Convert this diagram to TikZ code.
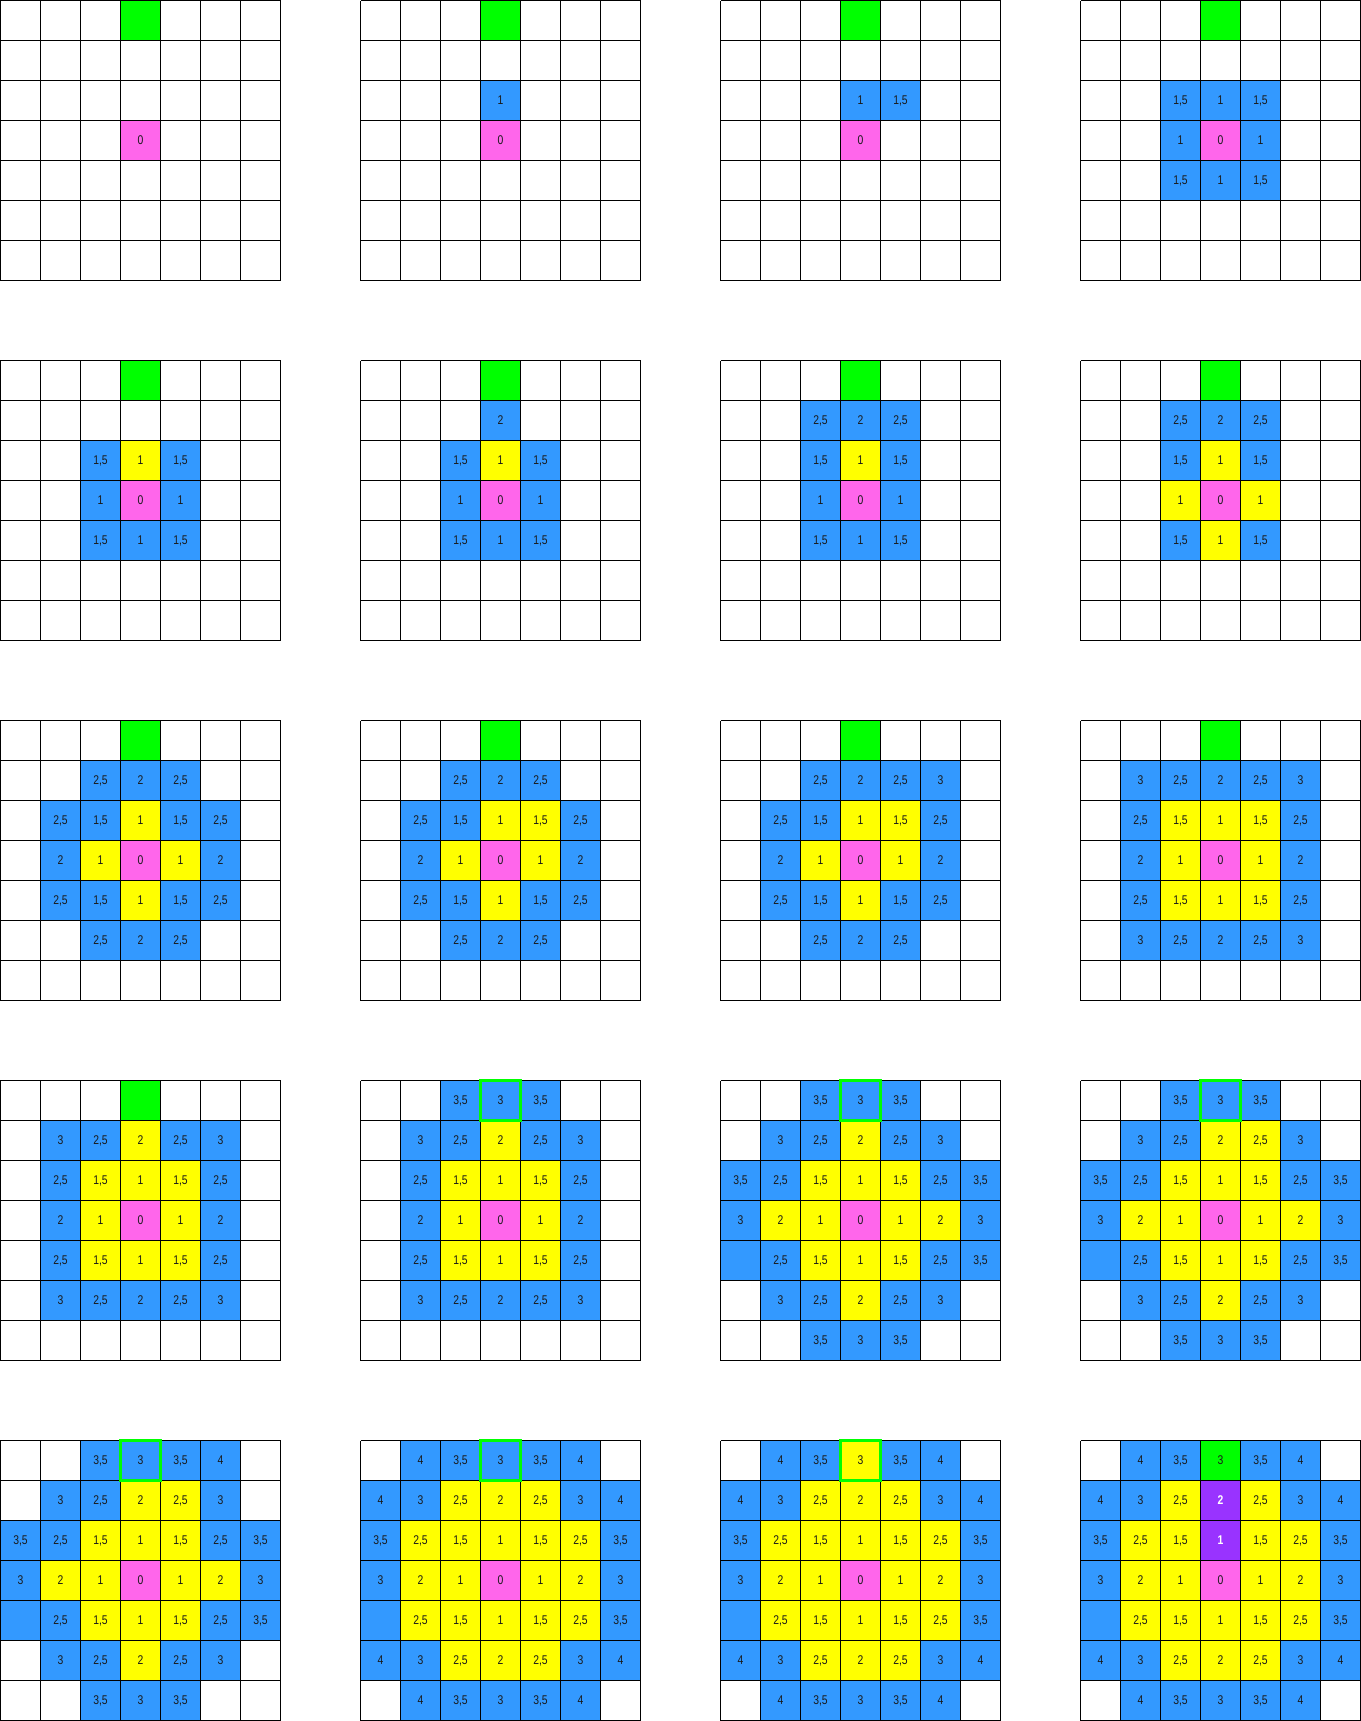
\documentclass[tikz,border=0pt]{standalone}
\usepackage{fontspec}
\usepackage{graphicx}
\setmainfont{Liberation Sans}
\definecolor{cblue}{HTML}{3399FF}
\definecolor{cyel}{HTML}{FFFF00}
\definecolor{cpink}{HTML}{FF66EB}
\definecolor{cgreen}{HTML}{00FF00}
\definecolor{cpurple}{HTML}{9933FF}
\definecolor{ctext}{HTML}{1A1A1A}
\newcommand\lbl[1]{\scalebox{0.82}[1]{#1}}
\tikzset{
  cell/.style={minimum size=1cm, inner sep=0pt, outer sep=0pt, draw=none, text=ctext, font=\fontsize{9}{10}\selectfont},
  blu/.style={fill=cblue},
  yel/.style={fill=cyel},
  pnk/.style={fill=cpink},
  grn/.style={fill=cgreen},
  pur/.style={fill=cpurple, text=white, font=\fontsize{9}{10}\selectfont\bfseries},
  gridline/.style={draw=black, line width=0.8pt},
  gbord/.style={draw=cgreen, line width=2.2pt}
}
\newcommand\gridblock[4]{%
  \foreach \r/\c/\s/\t in {#4} {
    \node[cell,\s] (#1-\r-\c) at ({#2+\c+0.5},{#3-\r-0.5}) {\lbl{\t}};
  }
  \draw[gridline] (#2,#3) grid (#2+7,#3-7);
}
\begin{document}
\begin{tikzpicture}
\useasboundingbox[fill=white] (-0.0125,0.0125) rectangle (34.0125,-43.0125);
% row 1
\gridblock{g1}{0}{0}{0/3/grn/{}, 3/3/pnk/0}
\gridblock{g2}{9}{0}{0/3/grn/{}, 2/3/blu/1, 3/3/pnk/0}
\gridblock{g3}{18}{0}{0/3/grn/{}, 2/3/blu/1, 2/4/blu/{1,5}, 3/3/pnk/0}
\gridblock{g4}{27}{0}{0/3/grn/{}, 2/2/blu/{1,5}, 2/3/blu/1, 2/4/blu/{1,5}, 3/2/blu/1, 3/3/pnk/0, 3/4/blu/1, 4/2/blu/{1,5}, 4/3/blu/1, 4/4/blu/{1,5}}
% row 2
\gridblock{g5}{0}{-9}{0/3/grn/{}, 2/2/blu/{1,5}, 2/3/yel/1, 2/4/blu/{1,5}, 3/2/blu/1, 3/3/pnk/0, 3/4/blu/1, 4/2/blu/{1,5}, 4/3/blu/1, 4/4/blu/{1,5}}
\gridblock{g6}{9}{-9}{0/3/grn/{}, 1/3/blu/2, 2/2/blu/{1,5}, 2/3/yel/1, 2/4/blu/{1,5}, 3/2/blu/1, 3/3/pnk/0, 3/4/blu/1, 4/2/blu/{1,5}, 4/3/blu/1, 4/4/blu/{1,5}}
\gridblock{g7}{18}{-9}{0/3/grn/{}, 1/2/blu/{2,5}, 1/3/blu/2, 1/4/blu/{2,5}, 2/2/blu/{1,5}, 2/3/yel/1, 2/4/blu/{1,5}, 3/2/blu/1, 3/3/pnk/0, 3/4/blu/1, 4/2/blu/{1,5}, 4/3/blu/1, 4/4/blu/{1,5}}
\gridblock{g8}{27}{-9}{0/3/grn/{}, 1/2/blu/{2,5}, 1/3/blu/2, 1/4/blu/{2,5}, 2/2/blu/{1,5}, 2/3/yel/1, 2/4/blu/{1,5}, 3/2/yel/1, 3/3/pnk/0, 3/4/yel/1, 4/2/blu/{1,5}, 4/3/yel/1, 4/4/blu/{1,5}}
% row 3
\gridblock{g9}{0}{-18}{0/3/grn/{},
  1/2/blu/{2,5}, 1/3/blu/2, 1/4/blu/{2,5},
  2/1/blu/{2,5}, 2/2/blu/{1,5}, 2/3/yel/1, 2/4/blu/{1,5}, 2/5/blu/{2,5},
  3/1/blu/2, 3/2/yel/1, 3/3/pnk/0, 3/4/yel/1, 3/5/blu/2,
  4/1/blu/{2,5}, 4/2/blu/{1,5}, 4/3/yel/1, 4/4/blu/{1,5}, 4/5/blu/{2,5},
  5/2/blu/{2,5}, 5/3/blu/2, 5/4/blu/{2,5}}
\gridblock{g10}{9}{-18}{0/3/grn/{},
  1/2/blu/{2,5}, 1/3/blu/2, 1/4/blu/{2,5},
  2/1/blu/{2,5}, 2/2/blu/{1,5}, 2/3/yel/1, 2/4/yel/{1,5}, 2/5/blu/{2,5},
  3/1/blu/2, 3/2/yel/1, 3/3/pnk/0, 3/4/yel/1, 3/5/blu/2,
  4/1/blu/{2,5}, 4/2/blu/{1,5}, 4/3/yel/1, 4/4/blu/{1,5}, 4/5/blu/{2,5},
  5/2/blu/{2,5}, 5/3/blu/2, 5/4/blu/{2,5}}
\gridblock{g11}{18}{-18}{0/3/grn/{},
  1/2/blu/{2,5}, 1/3/blu/2, 1/4/blu/{2,5}, 1/5/blu/3,
  2/1/blu/{2,5}, 2/2/blu/{1,5}, 2/3/yel/1, 2/4/yel/{1,5}, 2/5/blu/{2,5},
  3/1/blu/2, 3/2/yel/1, 3/3/pnk/0, 3/4/yel/1, 3/5/blu/2,
  4/1/blu/{2,5}, 4/2/blu/{1,5}, 4/3/yel/1, 4/4/blu/{1,5}, 4/5/blu/{2,5},
  5/2/blu/{2,5}, 5/3/blu/2, 5/4/blu/{2,5}}
\gridblock{g12}{27}{-18}{0/3/grn/{},
  1/1/blu/3, 1/2/blu/{2,5}, 1/3/blu/2, 1/4/blu/{2,5}, 1/5/blu/3,
  2/1/blu/{2,5}, 2/2/yel/{1,5}, 2/3/yel/1, 2/4/yel/{1,5}, 2/5/blu/{2,5},
  3/1/blu/2, 3/2/yel/1, 3/3/pnk/0, 3/4/yel/1, 3/5/blu/2,
  4/1/blu/{2,5}, 4/2/yel/{1,5}, 4/3/yel/1, 4/4/yel/{1,5}, 4/5/blu/{2,5},
  5/1/blu/3, 5/2/blu/{2,5}, 5/3/blu/2, 5/4/blu/{2,5}, 5/5/blu/3}
% row 4
\gridblock{g13}{0}{-27}{0/3/grn/{},
  1/1/blu/3, 1/2/blu/{2,5}, 1/3/yel/2, 1/4/blu/{2,5}, 1/5/blu/3,
  2/1/blu/{2,5}, 2/2/yel/{1,5}, 2/3/yel/1, 2/4/yel/{1,5}, 2/5/blu/{2,5},
  3/1/blu/2, 3/2/yel/1, 3/3/pnk/0, 3/4/yel/1, 3/5/blu/2,
  4/1/blu/{2,5}, 4/2/yel/{1,5}, 4/3/yel/1, 4/4/yel/{1,5}, 4/5/blu/{2,5},
  5/1/blu/3, 5/2/blu/{2,5}, 5/3/blu/2, 5/4/blu/{2,5}, 5/5/blu/3}
\gridblock{g14}{9}{-27}{0/2/blu/{3,5}, 0/3/blu/3, 0/4/blu/{3,5},
  1/1/blu/3, 1/2/blu/{2,5}, 1/3/yel/2, 1/4/blu/{2,5}, 1/5/blu/3,
  2/1/blu/{2,5}, 2/2/yel/{1,5}, 2/3/yel/1, 2/4/yel/{1,5}, 2/5/blu/{2,5},
  3/1/blu/2, 3/2/yel/1, 3/3/pnk/0, 3/4/yel/1, 3/5/blu/2,
  4/1/blu/{2,5}, 4/2/yel/{1,5}, 4/3/yel/1, 4/4/yel/{1,5}, 4/5/blu/{2,5},
  5/1/blu/3, 5/2/blu/{2,5}, 5/3/blu/2, 5/4/blu/{2,5}, 5/5/blu/3}
\gridblock{g15}{18}{-27}{0/2/blu/{3,5}, 0/3/blu/3, 0/4/blu/{3,5},
  1/1/blu/3, 1/2/blu/{2,5}, 1/3/yel/2, 1/4/blu/{2,5}, 1/5/blu/3,
  2/0/blu/{3,5}, 2/1/blu/{2,5}, 2/2/yel/{1,5}, 2/3/yel/1, 2/4/yel/{1,5}, 2/5/blu/{2,5}, 2/6/blu/{3,5},
  3/0/blu/3, 3/1/yel/2, 3/2/yel/1, 3/3/pnk/0, 3/4/yel/1, 3/5/yel/2, 3/6/blu/3,
  4/0/blu/{}, 4/1/blu/{2,5}, 4/2/yel/{1,5}, 4/3/yel/1, 4/4/yel/{1,5}, 4/5/blu/{2,5}, 4/6/blu/{3,5},
  5/1/blu/3, 5/2/blu/{2,5}, 5/3/yel/2, 5/4/blu/{2,5}, 5/5/blu/3,
  6/2/blu/{3,5}, 6/3/blu/3, 6/4/blu/{3,5}}
\gridblock{g16}{27}{-27}{0/2/blu/{3,5}, 0/3/blu/3, 0/4/blu/{3,5},
  1/1/blu/3, 1/2/blu/{2,5}, 1/3/yel/2, 1/4/yel/{2,5}, 1/5/blu/3,
  2/0/blu/{3,5}, 2/1/blu/{2,5}, 2/2/yel/{1,5}, 2/3/yel/1, 2/4/yel/{1,5}, 2/5/blu/{2,5}, 2/6/blu/{3,5},
  3/0/blu/3, 3/1/yel/2, 3/2/yel/1, 3/3/pnk/0, 3/4/yel/1, 3/5/yel/2, 3/6/blu/3,
  4/0/blu/{}, 4/1/blu/{2,5}, 4/2/yel/{1,5}, 4/3/yel/1, 4/4/yel/{1,5}, 4/5/blu/{2,5}, 4/6/blu/{3,5},
  5/1/blu/3, 5/2/blu/{2,5}, 5/3/yel/2, 5/4/blu/{2,5}, 5/5/blu/3,
  6/2/blu/{3,5}, 6/3/blu/3, 6/4/blu/{3,5}}
% row 5
\gridblock{g17}{0}{-36}{0/2/blu/{3,5}, 0/3/blu/3, 0/4/blu/{3,5}, 0/5/blu/4,
  1/1/blu/3, 1/2/blu/{2,5}, 1/3/yel/2, 1/4/yel/{2,5}, 1/5/blu/3,
  2/0/blu/{3,5}, 2/1/blu/{2,5}, 2/2/yel/{1,5}, 2/3/yel/1, 2/4/yel/{1,5}, 2/5/blu/{2,5}, 2/6/blu/{3,5},
  3/0/blu/3, 3/1/yel/2, 3/2/yel/1, 3/3/pnk/0, 3/4/yel/1, 3/5/yel/2, 3/6/blu/3,
  4/0/blu/{}, 4/1/blu/{2,5}, 4/2/yel/{1,5}, 4/3/yel/1, 4/4/yel/{1,5}, 4/5/blu/{2,5}, 4/6/blu/{3,5},
  5/1/blu/3, 5/2/blu/{2,5}, 5/3/yel/2, 5/4/blu/{2,5}, 5/5/blu/3,
  6/2/blu/{3,5}, 6/3/blu/3, 6/4/blu/{3,5}}
\gridblock{g18}{9}{-36}{0/1/blu/4, 0/2/blu/{3,5}, 0/3/blu/3, 0/4/blu/{3,5}, 0/5/blu/4,
  1/0/blu/4, 1/1/blu/3, 1/2/yel/{2,5}, 1/3/yel/2, 1/4/yel/{2,5}, 1/5/blu/3, 1/6/blu/4,
  2/0/blu/{3,5}, 2/1/yel/{2,5}, 2/2/yel/{1,5}, 2/3/yel/1, 2/4/yel/{1,5}, 2/5/yel/{2,5}, 2/6/blu/{3,5},
  3/0/blu/3, 3/1/yel/2, 3/2/yel/1, 3/3/pnk/0, 3/4/yel/1, 3/5/yel/2, 3/6/blu/3,
  4/0/blu/{}, 4/1/yel/{2,5}, 4/2/yel/{1,5}, 4/3/yel/1, 4/4/yel/{1,5}, 4/5/yel/{2,5}, 4/6/blu/{3,5},
  5/0/blu/4, 5/1/blu/3, 5/2/yel/{2,5}, 5/3/yel/2, 5/4/yel/{2,5}, 5/5/blu/3, 5/6/blu/4,
  6/1/blu/4, 6/2/blu/{3,5}, 6/3/blu/3, 6/4/blu/{3,5}, 6/5/blu/4}
\gridblock{g19}{18}{-36}{0/1/blu/4, 0/2/blu/{3,5}, 0/3/yel/3, 0/4/blu/{3,5}, 0/5/blu/4,
  1/0/blu/4, 1/1/blu/3, 1/2/yel/{2,5}, 1/3/yel/2, 1/4/yel/{2,5}, 1/5/blu/3, 1/6/blu/4,
  2/0/blu/{3,5}, 2/1/yel/{2,5}, 2/2/yel/{1,5}, 2/3/yel/1, 2/4/yel/{1,5}, 2/5/yel/{2,5}, 2/6/blu/{3,5},
  3/0/blu/3, 3/1/yel/2, 3/2/yel/1, 3/3/pnk/0, 3/4/yel/1, 3/5/yel/2, 3/6/blu/3,
  4/0/blu/{}, 4/1/yel/{2,5}, 4/2/yel/{1,5}, 4/3/yel/1, 4/4/yel/{1,5}, 4/5/yel/{2,5}, 4/6/blu/{3,5},
  5/0/blu/4, 5/1/blu/3, 5/2/yel/{2,5}, 5/3/yel/2, 5/4/yel/{2,5}, 5/5/blu/3, 5/6/blu/4,
  6/1/blu/4, 6/2/blu/{3,5}, 6/3/blu/3, 6/4/blu/{3,5}, 6/5/blu/4}
\gridblock{g20}{27}{-36}{0/1/blu/4, 0/2/blu/{3,5}, 0/3/grn/3, 0/4/blu/{3,5}, 0/5/blu/4,
  1/0/blu/4, 1/1/blu/3, 1/2/yel/{2,5}, 1/3/pur/2, 1/4/yel/{2,5}, 1/5/blu/3, 1/6/blu/4,
  2/0/blu/{3,5}, 2/1/yel/{2,5}, 2/2/yel/{1,5}, 2/3/pur/1, 2/4/yel/{1,5}, 2/5/yel/{2,5}, 2/6/blu/{3,5},
  3/0/blu/3, 3/1/yel/2, 3/2/yel/1, 3/3/pnk/0, 3/4/yel/1, 3/5/yel/2, 3/6/blu/3,
  4/0/blu/{}, 4/1/yel/{2,5}, 4/2/yel/{1,5}, 4/3/yel/1, 4/4/yel/{1,5}, 4/5/yel/{2,5}, 4/6/blu/{3,5},
  5/0/blu/4, 5/1/blu/3, 5/2/yel/{2,5}, 5/3/yel/2, 5/4/yel/{2,5}, 5/5/blu/3, 5/6/blu/4,
  6/1/blu/4, 6/2/blu/{3,5}, 6/3/blu/3, 6/4/blu/{3,5}, 6/5/blu/4}
% green outlines of the current target cell
\foreach \g in {g14,g15,g16,g17,g18,g19}
  \draw[gbord] (\g-0-3.north west) rectangle (\g-0-3.south east);
\end{tikzpicture}
\end{document}
